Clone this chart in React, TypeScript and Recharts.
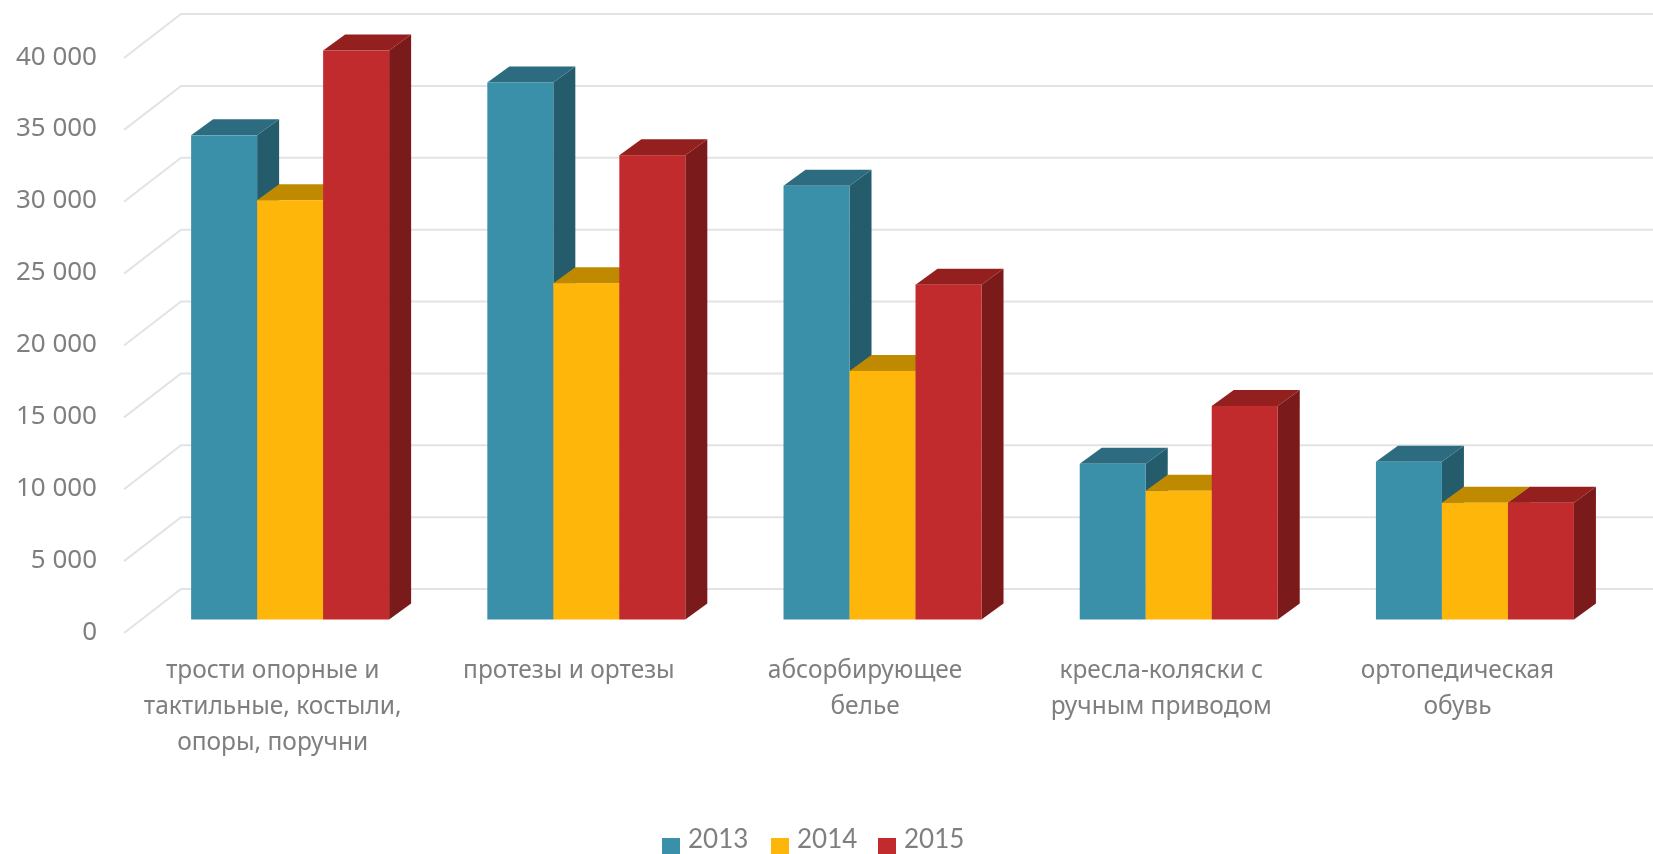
import { BarChart, Bar, XAxis, YAxis, CartesianGrid, Legend } from "recharts";

const categories = [
  "трости опорные и|тактильные, костыли,|опоры, поручни",
  "протезы и ортезы",
  "абсорбирующее|белье",
  "кресла-коляски с|ручным приводом",
  "ортопедическая|обувь",
];
const values2013 = [33680, 37360, 30170, 10830, 10970];
const values2014 = [29170, 23400, 17290, 8950, 8125];
const values2015 = [39580, 32300, 23290, 14860, 8125];
const yTicks = [0, 5000, 10000, 15000, 20000, 25000, 30000, 35000, 40000];

const data = categories.map((name, i) => ({
  name,
  y2013: values2013[i],
  y2014: values2014[i],
  y2015: values2015[i],
}));

const TEXT = "#7f7f7f";
const FONT = "'Noto Sans', sans-serif";
const DEPTH_X = 22;
const DEPTH_Y = 16;

// top and side shades for the fake 3d bars
const shades: Record<string, { top: string; side: string }> = {
  "#3a90a8": { top: "#2d6c80", side: "#245c6c" },
  "#ffb60b": { top: "#c08a00", side: "#c08a00" },
  "#c12b2d": { top: "#93201f", side: "#7b1a1a" },
};

function Bar3d(props: any) {
  const { x, y, width, height, fill } = props;
  const s = shades[fill];
  const r = x + width;
  return (
    <g>
      <polygon
        points={`${r},${y} ${r + DEPTH_X},${y - DEPTH_Y} ${r + DEPTH_X},${y + height - DEPTH_Y} ${r},${y + height}`}
        fill={s.side}
      />
      <polygon
        points={`${x},${y} ${x + DEPTH_X},${y - DEPTH_Y} ${r + DEPTH_X},${y - DEPTH_Y} ${r},${y}`}
        fill={s.top}
      />
      <rect x={x} y={y} width={width} height={height} fill={fill} />
    </g>
  );
}

// wall line plus the slanted floor piece, like the old 3d office charts
function GridLine(props: any) {
  const { y1 } = props;
  return (
    <polyline
      key={y1}
      points={`124,${y1 + 13.5} 181,${y1 - 30.5} 1653,${y1 - 30.5}`}
      fill="none"
      stroke="#e3e3e3"
      strokeWidth={2}
    />
  );
}

function CategoryTick(props: any) {
  const { x, payload } = props;
  const lines = String(payload.value).split("|");
  return (
    <text x={x - 17} textAnchor="middle" fill={TEXT} fontFamily={FONT} fontSize={24.5}>
      {lines.map((line, i) => (
        <tspan key={line} x={x - 17} y={678 + i * 36}>
          {line}
        </tspan>
      ))}
    </text>
  );
}

function ValueTick(props: any) {
  const { y, payload } = props;
  const label = String(payload.value).replace(/\B(?=(\d{3})+$)/g, " ");
  return (
    <text x={97} y={y + 20} textAnchor="end" fill={TEXT} fontFamily={FONT} fontSize={26}>
      {label}
    </text>
  );
}

function LegendRow(props: any) {
  return (
    <div style={{ position: "relative", height: 24 }}>
      {props.payload.map((item: any, i: number) => (
        <div key={item.value} style={{ position: "absolute", left: [662, 771, 878][i], top: 0, whiteSpace: "nowrap" }}>
          <span
            style={{
              position: "absolute",
              left: 0,
              top: 8,
              width: 18,
              height: 16,
              background: item.color,
            }}
          />
          <span
            style={{
              position: "absolute",
              left: 26,
              top: -4,
              color: TEXT,
              fontFamily: "Lato, sans-serif",
              fontSize: 26,
              lineHeight: "24px",
            }}
          >
            {item.value}
          </span>
        </div>
      ))}
    </div>
  );
}

export default function App() {
  return (
    <div
      style={{
        position: "absolute",
        left: 0,
        top: 0,
        width: 1653,
        height: 854,
        overflow: "hidden",
        filter: "blur(0.7px)",
      }}
    >
      <BarChart
        width={1653}
        height={854}
        data={data}
        margin={{ top: 44.5, right: 30.4, left: 0, bottom: 0 }}
        barCategoryGap="16.72%"
        barGap={0}
      >
        <CartesianGrid vertical={false} horizontal={GridLine} />
        <XAxis
          dataKey="name"
          height={234.5}
          axisLine={false}
          tickLine={false}
          interval={0}
          tick={CategoryTick}
        />
        <YAxis
          width={141.6}
          domain={[0, 40000]}
          ticks={yTicks}
          axisLine={false}
          tickLine={false}
          tick={ValueTick}
        />
        <Legend
          layout="horizontal"
          verticalAlign="middle"
          align="center"
          wrapperStyle={{ left: 0, top: 830, width: 1653 }}
          content={LegendRow}
        />
        <Bar dataKey="y2013" name="2013" fill="#3a90a8" shape={Bar3d} isAnimationActive={false} />
        <Bar dataKey="y2014" name="2014" fill="#ffb60b" shape={Bar3d} isAnimationActive={false} />
        <Bar dataKey="y2015" name="2015" fill="#c12b2d" shape={Bar3d} isAnimationActive={false} />
      </BarChart>
    </div>
  );
}
